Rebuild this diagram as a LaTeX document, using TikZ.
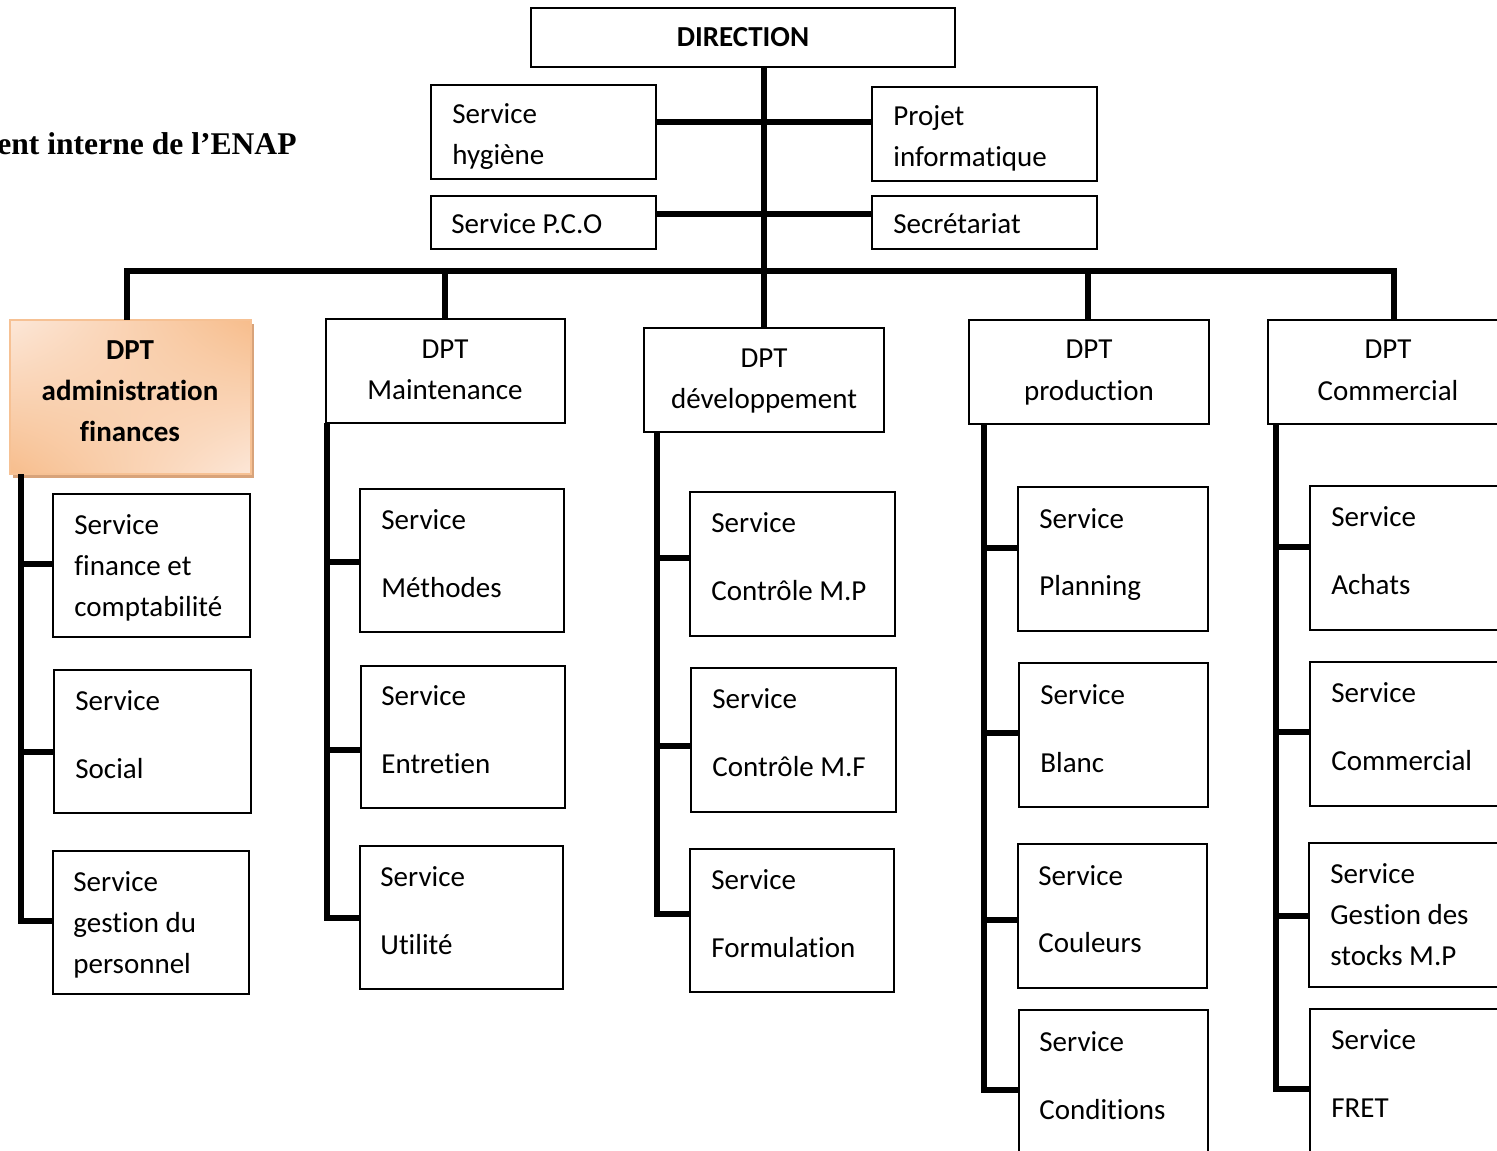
\documentclass[tikz,border=0pt]{standalone}
\usepackage{fontspec}
\setmainfont{Carlito}[Ligatures=NoCommon]
\newfontfamily\titlefont{Liberation Serif}
\usetikzlibrary{fit,shadings}
\definecolor{peachA}{HTML}{FCE7D8}
\definecolor{peachB}{HTML}{F7BD8C}
\definecolor{peachEdge}{HTML}{F6C194}
\definecolor{peachShadow}{HTML}{D8A37A}
\begin{document}
\begin{tikzpicture}[x=0.5pt,y=-0.5pt,
  box/.style={draw=black,line width=1pt,fill=white,inner sep=0pt,outer sep=0pt,rectangle},
  ghost/.style={inner sep=0pt,outer sep=0pt,rectangle},
  link/.style={line width=3pt,line join=miter},
  txt/.style={inner sep=0pt,font=\fontsize{14.5}{17}\selectfont},
  btxt/.style={txt,font=\fontsize{14.5}{17}\selectfont\bfseries},
  lw/.style={txt,anchor=base west},
  lc/.style={txt,anchor=base},
  bc/.style={btxt,anchor=base}]
\useasboundingbox (0,0) rectangle (1497,1150);
\clip (0,0) rectangle (1497,1150);

% heading
\node[inner sep=0pt,anchor=base east,font=\titlefont\fontsize{15.8}{19}\selectfont\bfseries] (title) at (297,155) {ent interne de l’ENAP};

% top level
\node[box,fit={(531,8) (955,67)}] (dir) {};
\node[box,fit={(431,85) (656,179)}] (hyg) {};
\node[box,fit={(872,87) (1097,181)}] (proj) {};
\node[box,fit={(431,196) (656,249)}] (pco) {};
\node[box,fit={(872,196) (1097,249)}] (sec) {};

% departments
\node[ghost,fit={(10,320) (251,474)}] (adm) {};
\fill[peachShadow] ([shift={(3,4)}]adm.south west) rectangle ([shift={(3,4)}]adm.north east);
\shade[upper left=peachA,upper right=peachB,lower left=peachB,lower right=peachA]
  (adm.south west) rectangle (adm.north east);
\draw[peachEdge,line width=1.2pt] (adm.south west) rectangle (adm.north east);
\node[box,fit={(326,319) (565,423)}] (mnt) {};
\node[box,fit={(644,328) (884,432)}] (dev) {};
\node[box,fit={(969,320) (1209,424)}] (prd) {};
\node[box,fit={(1268,320) (1508,424)}] (com) {};

% services
\node[box,fit={(53,494) (250,637)}] (a1) {};
\node[box,fit={(54,670) (251,813)}] (a2) {};
\node[box,fit={(53,851) (249,994)}] (a3) {};
\node[box,fit={(360,489) (564,632)}] (m1) {};
\node[box,fit={(361,666) (565,808)}] (m2) {};
\node[box,fit={(360,846) (563,989)}] (m3) {};
\node[box,fit={(690,492) (895,636)}] (v1) {};
\node[box,fit={(691,668) (896,812)}] (v2) {};
\node[box,fit={(690,849) (894,992)}] (v3) {};
\node[box,fit={(1018,487) (1208,631)}] (p1) {};
\node[box,fit={(1019,663) (1208,807)}] (p2) {};
\node[box,fit={(1018,844) (1207,988)}] (p3) {};
\node[box,fit={(1019,1010) (1208,1170)}] (p4) {};
\node[box,fit={(1310,486) (1510,630)}] (c1) {};
\node[box,fit={(1310,662) (1510,806)}] (c2) {};
\node[box,fit={(1309,843) (1510,987)}] (c3) {};
\node[box,fit={(1310,1009) (1510,1170)}] (c4) {};

% connectors: direction level
\draw[link] (dir.south -| dev.north) -- (dev.north);
\draw[link] (hyg.east |- 0,122) -- (proj.west |- 0,122);
\draw[link] (pco.east |- 0,214) -- (sec.west |- 0,214);

% connectors: department bus
\coordinate (d1) at (127,271);
\coordinate (d2) at (445,271);
\coordinate (d3) at (764,271);
\coordinate (d4) at (1088,271);
\coordinate (d5) at (1394,271);
\draw[link] ([xshift=-1.5]d1) -- ([xshift=1.5]d5);
\draw[link] (d1) -- (d1 |- adm.north);
\draw[link] (d2) -- (d2 |- mnt.north);
\draw[link] (d4) -- (d4 |- prd.north);
\draw[link] (d5) -- (d5 |- com.north);

% connectors: services
\draw[link] (adm.south -| 21,0) |- (a3.west |- 0,921);
\draw[link] (21,564) -- (a1.west |- 0,564);
\draw[link] (21,752) -- (a2.west |- 0,752);

\draw[link] (mnt.south -| 327,0) |- (m3.west |- 0,918);
\draw[link] (327,562) -- (m1.west |- 0,562);
\draw[link] (327,750) -- (m2.west |- 0,750);

\draw[link] (dev.south -| 657,0) |- (v3.west |- 0,914);
\draw[link] (657,558) -- (v1.west |- 0,558);
\draw[link] (657,746) -- (v2.west |- 0,746);

\draw[link] (prd.south -| 984,0) |- (p4.west |- 0,1090);
\draw[link] (984,548) -- (p1.west |- 0,548);
\draw[link] (984,733) -- (p2.west |- 0,733);
\draw[link] (984,920) -- (p3.west |- 0,920);

\draw[link] (com.south -| 1276,0) |- (c4.west |- 0,1089);
\draw[link] (1276,547) -- (c1.west |- 0,547);
\draw[link] (1276,732) -- (c2.west |- 0,732);
\draw[link] (1276,916) -- (c3.west |- 0,916);

% texts: direction level
\node[bc] (tdir) at (743,47) {DIRECTION};
\node[lw] (thyg1) at (452,124) {Service};
\node[lw] (thyg2) at (452,165) {hygiène};
\node[lw] (tproj1) at (893,126) {Projet};
\node[lw] (tproj2) at (893,167) {informatique};
\node[lw] (tpco) at (451,234) {Service P.C.O};
\node[lw] (tsec) at (893,234) {Secrétariat};

% texts: departments
\node[bc] (tadm1) at (130,359) {DPT};
\node[bc] (tadm2) at (130,400) {administration};
\node[bc] (tadm3) at (130,441) {finances};
\node[lc] (tmnt1) at (445,358) {DPT};
\node[lc] (tmnt2) at (445,399) {Maintenance};
\node[lc] (tdev1) at (764,367) {DPT};
\node[lc] (tdev2) at (764,408) {développement};
\node[lc] (tprd1) at (1089,358) {DPT};
\node[lc] (tprd2) at (1089,400) {production};
\node[lc] (tcom1) at (1388,358) {DPT};
\node[lc] (tcom2) at (1388,400) {Commercial};

% texts: services
\node[lw] (ta1a) at (74,534) {Service};
\node[lw] (ta1b) at (74,575) {finance et};
\node[lw] (ta1c) at (74,616) {comptabilité};
\node[lw] (ta2a) at (75,710) {Service};
\node[lw] (ta2b) at (75,778) {Social};
\node[lw] (ta3a) at (73,891) {Service};
\node[lw] (ta3b) at (73,932) {gestion du};
\node[lw] (ta3c) at (73,973) {personnel};

\node[lw] (tm1a) at (381,529) {Service};
\node[lw] (tm1b) at (381,597) {Méthodes};
\node[lw] (tm2a) at (381,705) {Service};
\node[lw] (tm2b) at (381,773) {Entretien};
\node[lw] (tm3a) at (380,886) {Service};
\node[lw] (tm3b) at (380,954) {Utilité};

\node[lw] (tv1a) at (711,532) {Service};
\node[lw] (tv1b) at (711,600) {Contrôle M.P};
\node[lw] (tv2a) at (712,708) {Service};
\node[lw] (tv2b) at (712,776) {Contrôle M.F};
\node[lw] (tv3a) at (711,889) {Service};
\node[lw] (tv3b) at (711,957) {Formulation};

\node[lw] (tp1a) at (1039,528) {Service};
\node[lw] (tp1b) at (1039,595) {Planning};
\node[lw] (tp2a) at (1040,704) {Service};
\node[lw] (tp2b) at (1040,772) {Blanc};
\node[lw] (tp3a) at (1038,885) {Service};
\node[lw] (tp3b) at (1038,952) {Couleurs};
\node[lw] (tp4a) at (1039,1051) {Service};
\node[lw] (tp4b) at (1039,1119) {Conditions};

\node[lw] (tc1a) at (1331,526) {Service};
\node[lw] (tc1b) at (1331,594) {Achats};
\node[lw] (tc2a) at (1331,702) {Service};
\node[lw] (tc2b) at (1331,770) {Commercial};
\node[lw] (tc3a) at (1330,883) {Service};
\node[lw] (tc3b) at (1330,924) {Gestion des};
\node[lw] (tc3c) at (1330,965) {stocks M.P};
\node[lw] (tc4a) at (1331,1049) {Service};
\node[lw] (tc4b) at (1331,1117) {FRET};
\end{tikzpicture}
\end{document}
